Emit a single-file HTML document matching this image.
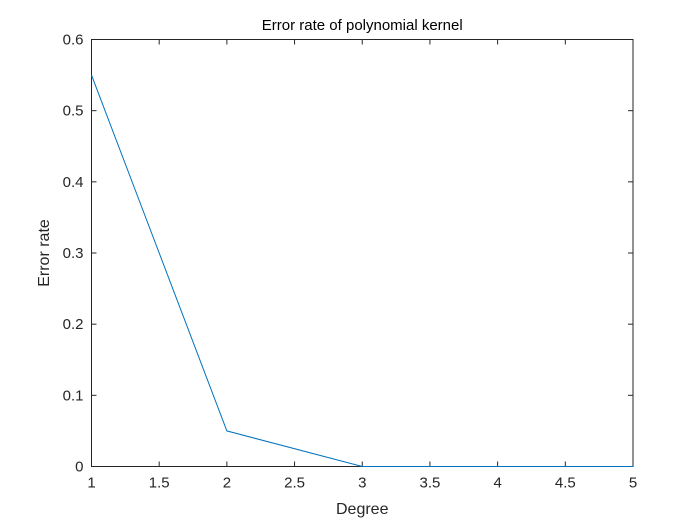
<!DOCTYPE html>
<html><head><meta charset="utf-8"><style>
body{margin:0;background:#fff}
svg{display:block;font-family:"Liberation Sans",sans-serif}
</style></head><body>
<svg id="chart" width="700" height="525" xmlns="http://www.w3.org/2000/svg">
<rect width="700" height="525" fill="#fff"/>
<g id="g"></g>
</svg>
<script>
const degrees=[1,2,3,4,5];
const errorRates=[0.55,0.05,0,0,0];
const xTicks=[1,1.5,2,2.5,3,3.5,4,4.5,5];
const yTicks=[0,0.1,0.2,0.3,0.4,0.5,0.6];
const L=91.5,R=633,T=39.5,B=466.5;
const xs=v=>L+(v-1)/4*(R-L);
const ys=v=>B-v/0.6*(B-T);
const g=document.getElementById('g');
const NS='http://www.w3.org/2000/svg';
function mk(tag,attrs,parent){const e=document.createElementNS(NS,tag);for(const k in attrs)e.setAttribute(k,attrs[k]);(parent||g).appendChild(e);return e;}
const ax=mk('g',{});


const box=mk('rect',{x:L,y:T,width:R-L,height:B-T,fill:'none',stroke:'#262626','stroke-width':1},ax);


xTicks.forEach(v=>{const x=xs(v);
mk('line',{x1:x,x2:x,y1:B,y2:B-5,stroke:'#262626'},ax);
mk('line',{x1:x,x2:x,y1:T,y2:T+5,stroke:'#262626'},ax);
const t=mk('text',{x:x,y:B+21,'text-anchor':'middle','font-size':15,fill:'#262626'},ax);t.textContent=String(v);

});
yTicks.forEach(v=>{const y=ys(v);
mk('line',{x1:L,x2:L+5,y1:y,y2:y,stroke:'#262626'},ax);
mk('line',{x1:R,x2:R-5,y1:y,y2:y,stroke:'#262626'},ax);
const t=mk('text',{x:L-8,y:y+5,'text-anchor':'end','font-size':15,fill:'#262626'},ax);t.textContent=String(v);

});
const line=mk('polyline',{points:degrees.map((d,i)=>xs(d)+','+ys(errorRates[i])).join(' '),fill:'none',stroke:'#0072BD','stroke-width':1});


const title=mk('text',{x:(L+R)/2,y:30,'text-anchor':'middle','font-size':15,fill:'#000'});title.textContent='Error rate of polynomial kernel';


const xl=mk('text',{x:(L+R)/2,y:514,'text-anchor':'middle','font-size':16,fill:'#262626'});xl.textContent='Degree';


const yl=mk('text',{x:0,y:0,'text-anchor':'middle','font-size':16,fill:'#262626',transform:'translate(49,'+((T+B)/2)+') rotate(-90)'});yl.textContent='Error rate';


</script>
</body></html>
